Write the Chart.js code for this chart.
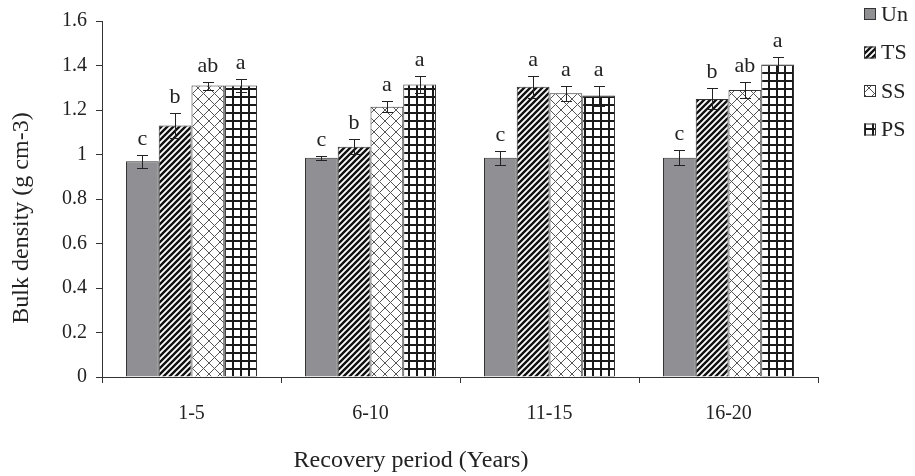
<!DOCTYPE html>
<html>
<head>
<meta charset="utf-8">
<title>Bulk density by recovery period</title>
<script src="https://cdn.jsdelivr.net/npm/chart.js@4.4.0/dist/chart.umd.min.js"></script>
<style>
  html, body { margin: 0; padding: 0; background: #fff; }
  #wrap { width: 915px; height: 476px; }
</style>
</head>
<body>
<div id="wrap"><canvas id="c" width="915" height="476"></canvas></div>
<script>
// Recovery periods (years) on the x axis
const categories = ['1-5', '6-10', '11-15', '16-20'];

// Mean bulk density (g cm-3) per treatment
const unValues = [0.97, 0.985, 0.985, 0.985];
const tsValues = [1.13, 1.035, 1.305, 1.25];
const ssValues = [1.31, 1.215, 1.275, 1.29];
const psValues = [1.31, 1.315, 1.265, 1.405];

// Standard errors
const unErr = [0.03, 0.01, 0.03, 0.033];
const tsErr = [0.057, 0.033, 0.05, 0.047];
const ssErr = [0.018, 0.025, 0.035, 0.038];
const psErr = [0.03, 0.04, 0.045, 0.033];

// Significance letters
const unSig = ['c', 'c', 'c', 'c'];
const tsSig = ['b', 'b', 'a', 'b'];
const ssSig = ['ab', 'a', 'a', 'ab'];
const psSig = ['a', 'a', 'a', 'a'];

// Y axis ticks
const yTicks = [0, 0.2, 0.4, 0.6, 0.8, 1, 1.2, 1.4, 1.6];

const FONT = '"Liberation Serif", "Times New Roman", Times, serif';
const INK = '#222';

// Fill patterns
function makePattern(size, painter) {
  const cv = document.createElement('canvas');
  cv.width = size; cv.height = size;
  const g = cv.getContext('2d');
  g.fillStyle = '#fff';
  g.fillRect(0, 0, size, size);
  painter(g, size);
  return g.createPattern(cv, 'repeat');
}
const diagPattern = makePattern(6, (g, s) => {
  g.strokeStyle = '#111';
  g.lineWidth = 2.4;
  g.beginPath();
  g.moveTo(-1, s + 1); g.lineTo(s + 1, -1);
  g.moveTo(-2, 2); g.lineTo(2, -2);
  g.moveTo(s - 2, s + 2); g.lineTo(s + 2, s - 2);
  g.stroke();
});
const diamondPattern = makePattern(11, (g, s) => {
  g.strokeStyle = '#555';
  g.lineWidth = 1;
  g.beginPath();
  g.moveTo(0, 0); g.lineTo(s, s);
  g.moveTo(0, s); g.lineTo(s, 0);
  g.stroke();
});
const gridPattern = makePattern(8, (g, s) => {
  g.fillStyle = '#1a1a1a';
  g.fillRect(0, 0, 2, s);
  g.fillRect(0, 0, s, 2);
});

const series = [
  { label: 'Un', data: unValues, err: unErr, sig: unSig, fill: '#909094' },
  { label: 'TS', data: tsValues, err: tsErr, sig: tsSig, fill: diagPattern },
  { label: 'SS', data: ssValues, err: ssErr, sig: ssSig, fill: diamondPattern },
  { label: 'PS', data: psValues, err: psErr, sig: psSig, fill: gridPattern }
];

// Error bars and letters above each bar
const errorBarPlugin = {
  id: 'errorBars',
  afterDatasetsDraw(chart) {
    const ctx = chart.ctx;
    const y = chart.scales.y;
    ctx.save();
    ctx.strokeStyle = INK;
    ctx.lineWidth = 1;
    ctx.fillStyle = INK;
    ctx.font = '22px ' + FONT;
    ctx.textAlign = 'center';
    ctx.textBaseline = 'alphabetic';
    chart.data.datasets.forEach((ds, di) => {
      const meta = chart.getDatasetMeta(di);
      meta.data.forEach((bar, i) => {
        const v = ds.data[i], e = ds.err[i];
        const top = Math.round(y.getPixelForValue(v + e)) + 0.5;
        const bot = Math.round(y.getPixelForValue(v - e)) + 0.5;
        const x = Math.round(bar.x) + 0.5;
        ctx.beginPath();
        ctx.moveTo(x, top); ctx.lineTo(x, bot);
        ctx.moveTo(x - 5.5, top); ctx.lineTo(x + 5.5, top);
        ctx.moveTo(x - 5.5, bot); ctx.lineTo(x + 5.5, bot);
        ctx.stroke();
        ctx.fillText(ds.sig[i], bar.x, top - 11);
      });
    });
    ctx.restore();
  }
};

// Axis titles and the legend at the right
const decorPlugin = {
  id: 'decor',
  afterDraw(chart) {
    const ctx = chart.ctx;
    ctx.save();
    ctx.fillStyle = INK;
    ctx.font = '24px ' + FONT;
    ctx.textAlign = 'center';
    ctx.textBaseline = 'middle';
    ctx.fillText('Recovery period (Years)', 411, 461);
    ctx.translate(22, 218);
    ctx.rotate(-Math.PI / 2);
    ctx.fillText('Bulk density (g cm-3)', 0, 0);
    ctx.restore();

    ctx.save();
    ctx.font = '22px ' + FONT;
    ctx.textAlign = 'left';
    ctx.textBaseline = 'middle';
    chart.data.datasets.forEach((ds, i) => {
      const cy = 14 + i * 38.5;
      ctx.fillStyle = ds.backgroundColor;
      ctx.fillRect(864, cy - 6, 12, 12);
      ctx.strokeStyle = '#333';
      ctx.lineWidth = 1;
      ctx.strokeRect(864.5, cy - 5.5, 11, 11);
      ctx.fillStyle = INK;
      ctx.fillText(ds.label, 881, cy + 1);
    });
    ctx.restore();
  }
};

new Chart(document.getElementById('c'), {
  type: 'bar',
  data: {
    labels: categories,
    datasets: series.map(s => ({
      label: s.label,
      data: s.data,
      err: s.err,
      sig: s.sig,
      backgroundColor: s.fill,
      borderColor: '#333',
      borderWidth: 1,
      categoryPercentage: 0.732,
      barPercentage: 1.0
    }))
  },
  options: {
    responsive: false,
    animation: false,
    devicePixelRatio: 1,
    layout: { padding: { top: 16, right: 97, bottom: 0, left: 0 } },
    plugins: { legend: { display: false }, tooltip: { enabled: false } },
    scales: {
      x: {
        afterFit(scale) { scale.height = 99; },
        grid: { drawOnChartArea: false, drawTicks: true, tickLength: 6, color: '#333', offset: true },
        border: { display: true, color: '#333', width: 1 },
        ticks: { color: INK, font: { family: FONT, size: 20 }, padding: 19 }
      },
      y: {
        min: 0, max: 1.6,
        afterFit(scale) { scale.width = 102; },
        afterBuildTicks(scale) { scale.ticks = yTicks.map(v => ({ value: v })); },
        grid: { drawOnChartArea: false, drawTicks: true, tickLength: 6, color: '#333' },
        border: { display: true, color: '#333', width: 1 },
        ticks: {
          color: INK, font: { family: FONT, size: 20 }, padding: 9,
          callback: v => String(Math.round(v * 10) / 10)
        }
      }
    }
  },
  plugins: [errorBarPlugin, decorPlugin]
});
</script>
</body>
</html>
